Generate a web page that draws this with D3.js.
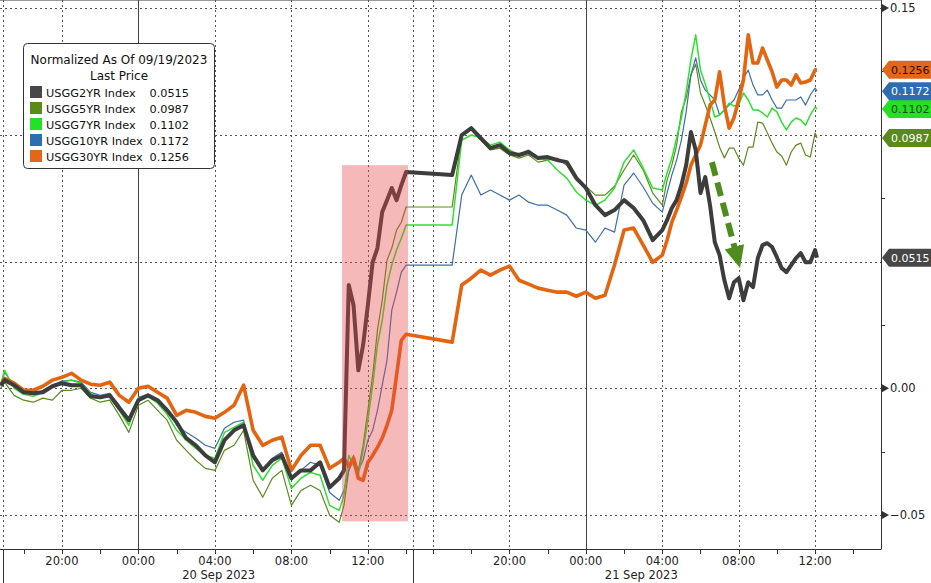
<!DOCTYPE html>
<html><head><meta charset="utf-8">
<script src="https://cdn.jsdelivr.net/npm/d3@7"></script>
<style>body{margin:0;background:#fff}svg{display:block;font-family:"DejaVu Sans",Verdana,sans-serif}</style>
</head><body><svg id="c" width="931" height="583"></svg>
<script>
// time in hours since 2023-09-19 00:00 (trading gap between 38 and 41)
const times = [16.8,17,17.5,18,18.5,19,19.5,20,20.5,21,21.5,22,22.5,23,23.5,24,24.5,25,25.5,26,26.5,27,27.5,28,28.5,29,29.5,30,30.5,31,31.5,32,32.5,33,33.5,34,34.5,34.75,35,35.25,35.5,35.75,36,36.25,36.5,36.75,37,37.25,37.5,37.75,38,
41,41.5,42,42.5,43,43.5,44,44.5,45,45.5,46,46.5,47,47.5,48,48.5,49,49.5,50,50.5,51,51.5,
52,52.25,52.5,52.75,53,53.25,53.5,53.75,54,54.25,54.5,54.75,55,55.25,55.5,55.75,56,56.25,56.5,56.75,57,57.25,57.5,57.75,58,58.25,58.5,58.75,59,59.25,59.5,59.75,60,60.1];

const usgg2yr = [0.0012,0.0032,0.0012,-0.0016,-0.0020,-0.0016,0.0008,0.0020,0.0012,0.0012,-0.0032,-0.0036,-0.0028,-0.0079,-0.0126,-0.0047,-0.0028,-0.0047,-0.0087,-0.0134,-0.0197,-0.0225,-0.0265,-0.0292,-0.0205,-0.0166,-0.0146,-0.0265,-0.0324,-0.0284,-0.0265,-0.0355,-0.0324,-0.0324,-0.0292,-0.0391,-0.0355,
-0.0324,0.0407,0.0328,0.0071,0.0170,0.0328,0.0497,0.0553,0.0695,0.0742,0.0790,0.0742,0.0801,0.0853,
0.0841,0.0999,0.1026,0.0987,0.0947,0.0959,0.0928,0.0920,0.0932,0.0908,0.0912,0.0900,0.0892,0.0829,0.0790,0.0722,0.0683,0.0703,0.0742,0.0711,0.0663,0.0584,
0.0624,0.0663,0.0711,0.0742,0.0801,0.0880,0.1011,0.0940,0.0770,0.0833,0.0722,0.0576,0.0525,0.0426,0.0355,0.0418,0.0434,0.0347,0.0418,0.0399,0.0513,0.0565,0.0572,0.0557,0.0517,0.0474,0.0458,0.0486,0.0513,0.0533,0.0497,0.0497,0.0545,0.0515];

const usgg5yr = [0.0000,0.0024,-0.0028,-0.0047,-0.0055,-0.0039,-0.0047,-0.0008,-0.0008,0.0000,-0.0039,-0.0055,-0.0047,-0.0107,-0.0174,-0.0067,-0.0047,-0.0087,-0.0126,-0.0205,-0.0245,-0.0284,-0.0316,-0.0324,-0.0245,-0.0225,-0.0166,-0.0363,-0.0430,-0.0355,-0.0324,-0.0462,-0.0403,-0.0383,-0.0403,-0.0501,-0.0529,
-0.0462,-0.0324,-0.0265,-0.0324,-0.0225,-0.0087,0.0051,0.0229,0.0347,0.0505,0.0553,0.0624,0.0655,0.0715,
0.0715,0.0999,0.1019,0.0979,0.0940,0.0947,0.0920,0.0908,0.0920,0.0892,0.0900,0.0908,0.0880,0.0821,0.0797,0.0762,0.0762,0.0797,0.0861,0.0920,0.0861,0.0770,
0.0722,0.0821,0.0880,0.0959,0.1090,0.1145,0.1236,0.1279,0.1165,0.1117,0.1066,0.1011,0.0951,0.0908,0.0947,0.0947,0.0908,0.0880,0.0951,0.0951,0.1050,0.1046,0.1007,0.0967,0.0932,0.0916,0.0880,0.0932,0.0959,0.0967,0.0920,0.0912,0.1007,0.0987];

const usgg7yr = [0.0016,0.0071,0.0000,-0.0024,-0.0032,-0.0016,0.0008,0.0024,0.0032,0.0020,-0.0020,-0.0039,-0.0032,-0.0087,-0.0146,-0.0039,-0.0032,-0.0059,-0.0103,-0.0166,-0.0205,-0.0237,-0.0265,-0.0276,-0.0174,-0.0154,-0.0134,-0.0304,-0.0363,-0.0304,-0.0276,-0.0395,-0.0355,-0.0332,-0.0343,-0.0462,-0.0482,
-0.0422,-0.0265,-0.0304,-0.0343,-0.0245,-0.0126,0.0012,0.0170,0.0268,0.0407,0.0486,0.0545,0.0592,0.0644,
0.0644,0.0979,0.0999,0.0987,0.0959,0.0971,0.0940,0.0920,0.0940,0.0908,0.0900,0.0861,0.0829,0.0774,0.0742,0.0722,0.0742,0.0790,0.0892,0.0940,0.0869,0.0790,
0.0782,0.0849,0.0908,0.0987,0.1066,0.1169,0.1295,0.1394,0.1255,0.1200,0.1137,0.1070,0.1078,0.1098,0.1125,0.1113,0.1117,0.1165,0.1137,0.1098,0.1098,0.1086,0.1070,0.1105,0.1090,0.1050,0.1019,0.1050,0.1066,0.1058,0.1038,0.1078,0.1109,0.1102];

const usgg10yr = [0.0008,0.0063,0.0008,-0.0016,-0.0024,-0.0008,0.0012,0.0028,0.0032,0.0024,-0.0016,-0.0028,-0.0020,-0.0067,-0.0118,-0.0036,-0.0024,-0.0047,-0.0079,-0.0146,-0.0174,-0.0197,-0.0225,-0.0237,-0.0158,-0.0134,-0.0126,-0.0276,-0.0324,-0.0276,-0.0253,-0.0363,-0.0324,-0.0292,-0.0304,-0.0411,-0.0442,
-0.0403,-0.0324,-0.0284,-0.0324,-0.0284,-0.0205,-0.0166,-0.0087,0.0012,0.0111,0.0308,0.0379,0.0458,0.0486,
0.0486,0.0762,0.0841,0.0762,0.0782,0.0762,0.0742,0.0762,0.0734,0.0722,0.0722,0.0703,0.0683,0.0632,0.0624,0.0576,0.0632,0.0616,0.0801,0.0849,0.0794,0.0730,
0.0695,0.0770,0.0841,0.0900,0.0979,0.1090,0.1236,0.1303,0.1216,0.1176,0.1157,0.1137,0.1078,0.1098,0.1117,0.1137,0.1176,0.1224,0.1255,0.1196,0.1157,0.1157,0.1176,0.1137,0.1105,0.1105,0.1137,0.1137,0.1137,0.1149,0.1117,0.1157,0.1184,0.1172];

const usgg30yr = [0.0012,0.0039,0.0020,-0.0008,-0.0008,0.0008,0.0032,0.0043,0.0059,0.0032,0.0016,0.0012,0.0024,-0.0028,-0.0055,0.0000,0.0008,-0.0016,-0.0039,-0.0107,-0.0087,-0.0095,-0.0111,-0.0118,-0.0095,-0.0067,0.0012,-0.0166,-0.0225,-0.0205,-0.0193,-0.0324,-0.0265,-0.0225,-0.0225,-0.0316,-0.0292,
-0.0276,-0.0308,-0.0276,-0.0355,-0.0363,-0.0292,-0.0265,-0.0233,-0.0197,-0.0146,-0.0087,0.0051,0.0189,0.0213,
0.0182,0.0407,0.0434,0.0466,0.0446,0.0466,0.0482,0.0426,0.0411,0.0395,0.0387,0.0379,0.0379,0.0363,0.0379,0.0355,0.0367,0.0486,0.0624,0.0632,0.0565,0.0497,
0.0525,0.0584,0.0655,0.0703,0.0754,0.0809,0.0880,0.0920,0.0959,0.1038,0.1117,0.1137,0.1248,0.1117,0.1026,0.1066,0.1137,0.1216,0.1394,0.1283,0.1283,0.1342,0.1295,0.1248,0.1188,0.1216,0.1216,0.1196,0.1236,0.1204,0.1208,0.1216,0.1255,0.1256];

const seriesNames = ["USGG2YR Index","USGG5YR Index","USGG7YR Index","USGG10YR Index","USGG30YR Index"];
const lastPrices = [0.0515,0.0987,0.1102,0.1172,0.1256];
const legendTitle = ["Normalized As Of 09/19/2023","Last Price"];

const yTicks = [-0.05,0,0.05,0.10,0.15];
const yLabelTicks = [-0.05,0,0.15];
const yMinorTicks = [-0.025,0.025,0.075,0.125];
const xTickHours = [18,20,22,24,26,28,30,32,34,36,38,40,42,44,46,48,50,52,54,56,58,60,62];
const xLabelHours = [20,24,28,32,36,44,48,52,56,60];
const xLabels = ["20:00","00:00","04:00","08:00","12:00","20:00","00:00","04:00","08:00","12:00"];
const gridHours = [16.92,20,28,32,36,38.95,40,44,52,56,60];
const dayHours = [24,48];
const sessionHours = [16.92,38.95];
const dateLabels = ["20 Sep 2023","21 Sep 2023"];
const dateLabelHours = [28.2,50.9];
const highlightHours = [34.65,38.1];
const highlightValues = [-0.0525,0.088];
const arrowHours = [54.6,56.07];
const arrowValues = [0.0892,0.0474];

// ---- styles ----
const colors = ["#3d3d3d","#5b8b1d","#2fe02f","#3a6fae","#e4640f"];
const widths = [4,1.2,1.5,1.2,3.6];
const tagFill = ["#474747","#5a8a1a","#26e026","#2f6db3","#e2661c"];
const tagText = ["#ffffff","#ffffff","#0b4a0b","#ffffff","#2a1000"];
const drawOrder = [1,3,2,4,0];

const svg = d3.select("#c");
const AX = 881, AY = 549;
const x = d3.scaleLinear().domain([16.76,38.36,38.95,63.45]).range([0,413,413,AX]);
const y = d3.scaleLinear().domain([-0.05,0.15]).range([515,8]);

svg.append("rect").attr("width",931).attr("height",583).attr("fill","#fff");

// grids
const g = svg.append("g");
g.append("line").attr("x1",0).attr("x2",AX).attr("y1",0.5).attr("y2",0.5).attr("stroke","#999");
g.selectAll(".hg").data(yTicks).join("line")
  .attr("x1",0).attr("x2",AX)
  .attr("y1",d=>Math.round(y(d))+0.5).attr("y2",d=>Math.round(y(d))+0.5)
  .attr("stroke","#555").attr("stroke-dasharray","2,3");
g.selectAll(".vg").data(gridHours).join("line")
  .attr("x1",d=>Math.round(x(d))+0.5).attr("x2",d=>Math.round(x(d))+0.5)
  .attr("y1",0).attr("y2",AY)
  .attr("stroke","#555").attr("stroke-dasharray","2,3");
g.selectAll(".dg").data(dayHours).join("line")
  .attr("x1",d=>Math.round(x(d))+0.5).attr("x2",d=>Math.round(x(d))+0.5)
  .attr("y1",0).attr("y2",AY).attr("stroke","#444");
g.selectAll(".sg").data(sessionHours).join("line")
  .attr("x1",d=>Math.round(x(d))+0.5).attr("x2",d=>Math.round(x(d))+0.5)
  .attr("y1",AY).attr("y2",583).attr("stroke","#333");

// series
const seriesData = [usgg2yr,usgg5yr,usgg7yr,usgg10yr,usgg30yr];
const line = d3.line().x((d,i)=>x(times[i])).y(d=>y(d));
drawOrder.forEach(k=>{
  svg.append("path").datum(seriesData[k]).attr("d",line)
    .attr("fill","none").attr("stroke",colors[k]).attr("stroke-width",widths[k])
    .attr("stroke-linejoin","round");
});

// highlight band
svg.append("rect")
  .attr("x",x(highlightHours[0])).attr("width",x(highlightHours[1])-x(highlightHours[0]))
  .attr("y",y(highlightValues[1])).attr("height",y(highlightValues[0])-y(highlightValues[1]))
  .attr("fill","rgb(232,70,70)").attr("opacity",0.38);

// arrow
{
  const sx=x(arrowHours[0]), sy=y(arrowValues[0]), tx=x(arrowHours[1]), ty=y(arrowValues[1]);
  const dx=tx-sx, dy=ty-sy, L=Math.hypot(dx,dy), ux=dx/L, uy=dy/L;
  const hl=22, hw=10;
  const bx=tx-ux*hl, by=ty-uy*hl;
  svg.append("line").attr("x1",sx).attr("y1",sy).attr("x2",bx+ux*2).attr("y2",by+uy*2)
    .attr("stroke","#4f8c1e").attr("stroke-width",6).attr("stroke-dasharray","14,7");
  svg.append("path").attr("d",`M${tx},${ty}L${bx-uy*hw},${by+ux*hw}L${bx+uy*hw},${by-ux*hw}Z`)
    .attr("fill","#4f8c1e");
}

// axes
svg.append("line").attr("x1",AX+0.5).attr("x2",AX+0.5).attr("y1",0).attr("y2",AY).attr("stroke","#333");
svg.append("line").attr("x1",0).attr("x2",AX+0.5).attr("y1",AY+0.5).attr("y2",AY+0.5).attr("stroke","#333");
svg.selectAll(".xt").data(xTickHours).join("line")
  .attr("x1",d=>Math.round(x(d))+0.5).attr("x2",d=>Math.round(x(d))+0.5)
  .attr("y1",AY).attr("y2",AY+5).attr("stroke","#333");
svg.selectAll(".xl").data(xLabelHours).join("text")
  .attr("x",d=>x(d)).attr("y",565).attr("text-anchor","middle")
  .attr("font-size",11.5).attr("fill","#222").text((d,i)=>xLabels[i]);
svg.selectAll(".dl").data(dateLabelHours).join("text")
  .attr("x",d=>x(d)).attr("y",579).attr("text-anchor","middle")
  .attr("font-size",11.5).attr("fill","#222").text((d,i)=>dateLabels[i]);
svg.selectAll(".ym").data(yMinorTicks).join("line")
  .attr("x1",AX).attr("x2",AX+4).attr("y1",d=>Math.round(y(d))+0.5).attr("y2",d=>Math.round(y(d))+0.5)
  .attr("stroke","#333");
svg.selectAll(".ya").data(yLabelTicks).join("path")
  .attr("d",d=>{const yy=y(d);return `M${AX+1},${yy-4}L${AX+8},${yy}L${AX+1},${yy+4}Z`;})
  .attr("fill","#333");
svg.selectAll(".yl").data(yLabelTicks).join("text")
  .attr("x",AX+9).attr("y",d=>y(d)+4).attr("font-size",11.5).attr("fill","#222")
  .text(d=>d3.format(".2f")(d));

// last price tags
lastPrices.forEach((v,i)=>{
  const yy=y(v);
  svg.append("path").attr("d",`M${AX+1},${yy}L${AX+8},${yy-9}L931,${yy-9}L931,${yy+9}L${AX+8},${yy+9}Z`)
    .attr("fill",tagFill[i]);
  svg.append("text").attr("x",AX+10).attr("y",yy+4).attr("font-size",11)
    .attr("fill",tagText[i]).text(d3.format(".4f")(v));
});

// legend
const lg = svg.append("g");
lg.append("rect").attr("x",23.5).attr("y",43.5).attr("width",191).attr("height",125).attr("rx",4)
  .attr("fill","#fff").attr("stroke","#333");
legendTitle.forEach((t,i)=>{
  lg.append("text").attr("x",119).attr("y",64+i*16).attr("text-anchor","middle")
    .attr("font-size",12).attr("fill","#111").text(t);
});
seriesNames.forEach((n,i)=>{
  const cy = 92+i*16;
  lg.append("rect").attr("x",30).attr("y",cy-6).attr("width",12).attr("height",12).attr("fill",tagFill[i]);
  lg.append("text").attr("x",46).attr("y",cy+4.5).attr("font-size",11.3).attr("fill","#111").text(n);
  lg.append("text").attr("x",189).attr("y",cy+4.5).attr("text-anchor","end").attr("font-size",11.3).attr("fill","#111").text(d3.format(".4f")(lastPrices[i]));
});
</script></body></html>
